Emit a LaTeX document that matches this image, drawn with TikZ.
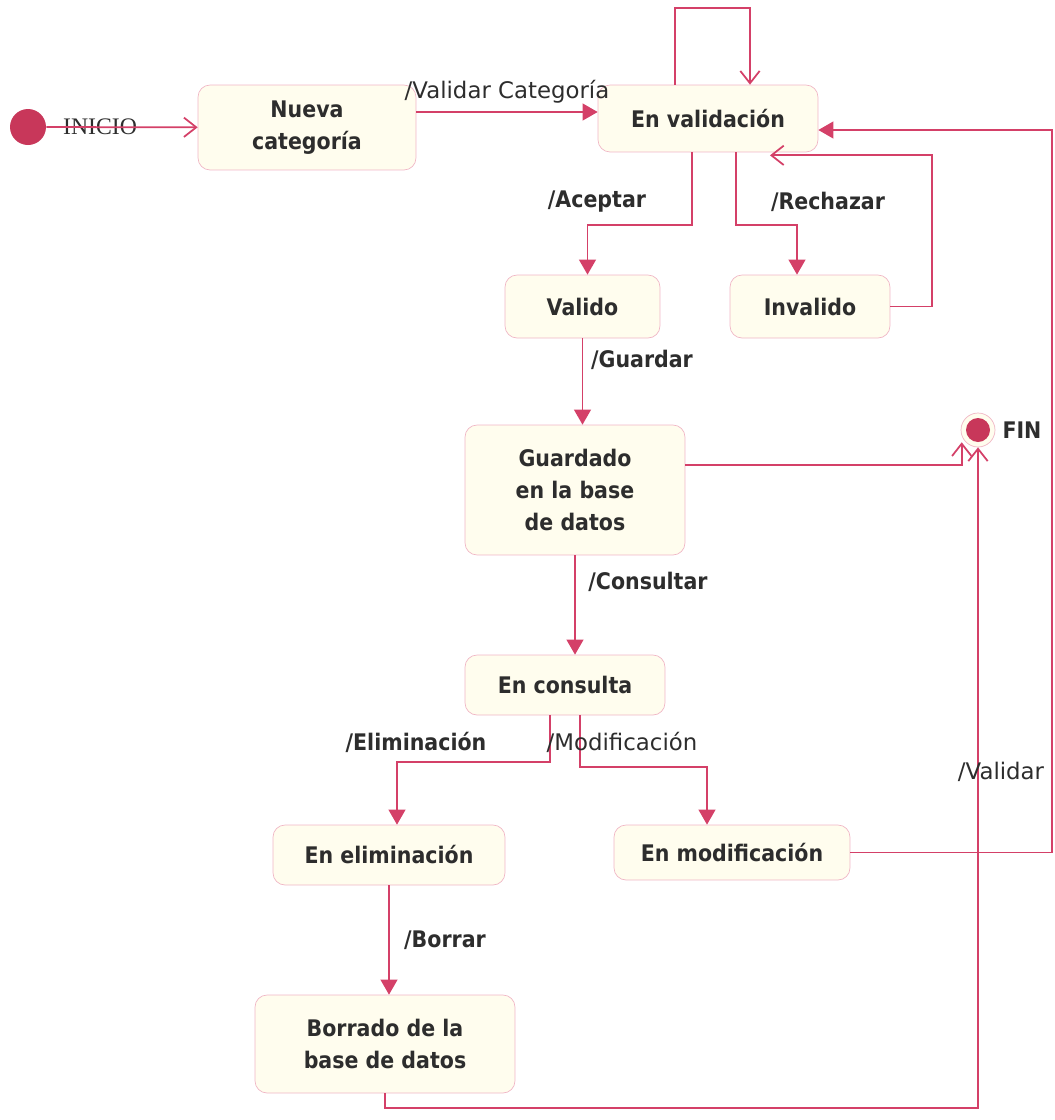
\documentclass[tikz,border=0pt]{standalone}
\usepackage{fontspec}
\setmainfont{DejaVu Sans}
\newfontfamily\statefont[FakeStretch=0.9]{DejaVu Sans}
\newfontfamily\labelfont{DejaVu Sans}
\newfontfamily\inifont{Liberation Serif}
\usepackage{tikz}
\usetikzlibrary{arrows.meta, positioning, calc}
\usepackage{xcolor}
\definecolor{boxfill}{RGB}{255,253,238}
\definecolor{boxline}{RGB}{240,182,197}
\definecolor{linkred}{RGB}{212,64,104}
\definecolor{dotred}{RGB}{200,55,90}
\definecolor{textgray}{RGB}{45,45,45}
\tikzset{
  statebox/.style={
    rectangle, rounded corners=0.24cm, draw=boxline, fill=boxfill, align=center,
    text=textgray, inner sep=2pt, font=\statefont\bfseries\fontsize{13}{18}\selectfont
  },
  boldlabel/.style={text=textgray, inner sep=0pt, font=\statefont\bfseries\fontsize{13}{18}\selectfont},
  plainlabel/.style={text=textgray, inner sep=0pt, font=\labelfont\fontsize{13}{15}\selectfont},
  filledarrow/.style={-{Triangle[length=8.5pt,width=9.5pt]}, line width=1pt, color=linkred},
  openarrow/.style={-{Straight Barb[length=7pt,width=11pt]}, line width=1pt, color=linkred}
}

\begin{document}
\begin{tikzpicture}[x=0.02cm, y=-0.02cm]
  \useasboundingbox (0,0) rectangle (1055,1120);
  % states
  \node[circle, fill=dotred, minimum size=0.72cm, inner sep=0pt] (inicio) at (28,127) {};
  \node[text=textgray, inner sep=0pt, font=\inifont\fontsize{13.5}{16}\selectfont] (iniciolbl) at (100,127) {INICIO};
  \node[statebox, minimum width=4.36cm, minimum height=1.7cm] (nueva) at (307,127.5) {Nueva\\categoría};
  \node[statebox, minimum width=4.4cm, minimum height=1.34cm] (envalid) at (708,118.5) {En validación};
  \node[statebox, minimum width=3.1cm, minimum height=1.26cm] (valido) at (582.5,306.5) {Valido};
  \node[statebox, minimum width=3.2cm, minimum height=1.26cm] (invalido) at (810,306.5) {Invalido};
  \node[statebox, minimum width=4.4cm, minimum height=2.6cm] (guardado) at (575,490) {Guardado\\en la base\\de datos};
  \node[circle, fill=boxfill, draw=boxline, minimum size=0.68cm, inner sep=0pt] (fin) at (978,430) {};
  \node[circle, fill=dotred, minimum size=0.48cm, inner sep=0pt] (findot) at (fin) {};
  \node[boldlabel] (finlbl) at (1022,430) {FIN};
  \node[statebox, minimum width=4cm, minimum height=1.2cm] (consulta) at (565,685) {En consulta};
  \node[statebox, minimum width=4.64cm, minimum height=1.2cm] (elim) at (389,855) {En eliminación};
  \node[statebox, minimum width=4.72cm, minimum height=1.1cm] (modif) at (732,852.5) {En modificación};
  \node[statebox, minimum width=5.2cm, minimum height=1.96cm] (borrado) at (385,1044) {Borrado de la\\base de datos};

  % transitions
  \draw[openarrow] (inicio) -- (nueva);
  \draw[filledarrow] (nueva.east |- 0,112) -- (envalid.west |- 0,112);
  \draw[openarrow] ([xshift=-0.66cm]envalid.north) -- ++(0,-77) -| ([xshift=0.84cm]envalid.north);
  \draw[filledarrow] ([xshift=-0.32cm]envalid.south) -- ++(0,73) -| ([xshift=0.1cm]valido.north);
  \draw[filledarrow] ([xshift=0.56cm]envalid.south) -- ++(0,73) -| ([xshift=-0.26cm]invalido.north);
  \draw[openarrow] (invalido.east) -- ++(42,0) |- ([xshift=1.24cm,yshift=-0.06cm]envalid.south);
  \draw[filledarrow] (valido.south) -- (valido.south |- guardado.north);
  \draw[openarrow] ([yshift=0.5cm]guardado.east) -| ([xshift=-0.08cm]fin.south west);
  \draw[filledarrow] (guardado.south) -- (guardado.south |- consulta.north);
  \draw[filledarrow] ([xshift=-0.3cm]consulta.south) -- ++(0,47) -| ([xshift=0.16cm]elim.north);
  \draw[filledarrow] ([xshift=0.3cm]consulta.south) -- ++(0,52) -| ([xshift=-0.5cm]modif.north);
  \draw[filledarrow] (modif.east) -- ++(202,0) |- ([yshift=-0.23cm]envalid.east);
  \draw[filledarrow] (elim.south) -- (elim.south |- borrado.north);
  \draw[openarrow] (borrado.south) -- ++(0,15) -| (fin.south);

  % labels
  \node[plainlabel] (lblcat) at (507,92) {/Validar Categoría};
  \node[boldlabel] (lblacep) at (597,202) {/Aceptar};
  \node[boldlabel] (lblrech) at (828,202) {/Rechazar};
  \node[boldlabel] (lblguar) at (642,360) {/Guardar};
  \node[boldlabel] (lblcons) at (648,582) {/Consultar};
  \node[boldlabel] (lblelim) at (416,742) {/Eliminación};
  \node[plainlabel] (lblmodif) at (622,742) {/Modificación};
  \node[boldlabel] (lblborr) at (445,940) {/Borrar};
  \node[plainlabel] (lblvalid) at (1001,772) {/Validar};
\end{tikzpicture}
\end{document}
